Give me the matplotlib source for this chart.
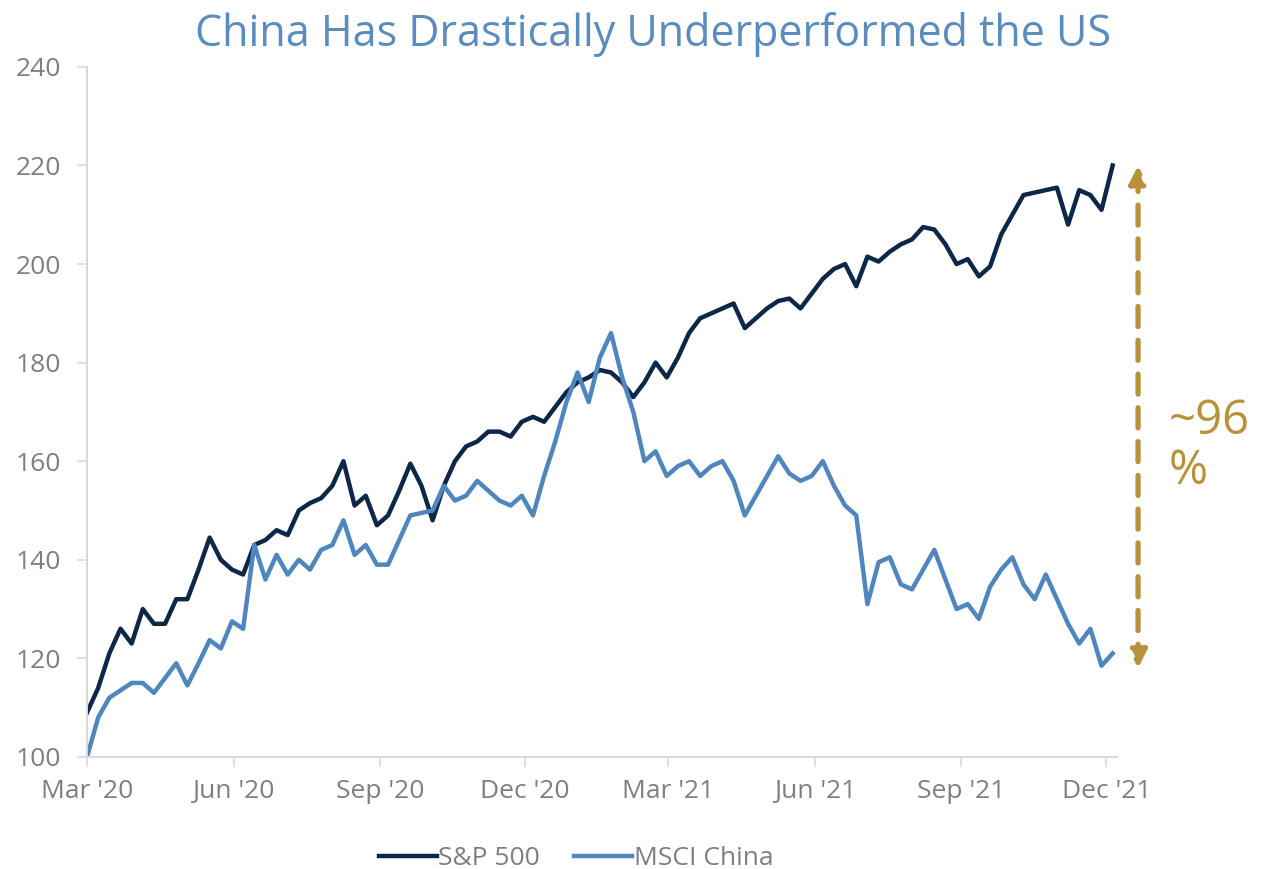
import matplotlib
matplotlib.use("Agg")
import matplotlib.pyplot as plt
import matplotlib.transforms as mtransforms
import pandas as pd

# weekly index levels (start = 100)
weeks = pd.date_range("2020-03-23", periods=93, freq="7D")

sp500 = [
    109, 114, 121, 126, 123, 130, 127, 127, 132, 132,
    138, 144.5, 140, 138, 137, 143, 144, 146, 145, 150,
    151.5, 152.5, 155, 160, 151, 153, 147, 149, 154, 159.5,
    155, 148, 155, 160, 163, 164, 166, 166, 165, 168,
    169, 168, 171, 174, 176, 177, 178.5, 178, 176, 173,
    176, 180, 177, 181, 186, 189, 190, 191, 192, 187,
    189, 191, 192.5, 193, 191, 194, 197, 199, 200, 195.5,
    201.5, 200.5, 202.5, 204, 205, 207.5, 207, 204, 200, 201,
    197.5, 199.5, 206, 210, 214, 214.5, 215, 215.5, 208, 215,
    214, 211, 220,
]

msci_china = [
    100, 108, 112, 113.5, 115, 115, 113, 116, 119, 114.5,
    119, 123.7, 122, 127.5, 126, 143, 136, 141, 137, 140,
    138, 142, 143, 148, 141, 143, 139, 139, 144, 149,
    149.5, 150, 155, 152, 153, 156, 154, 152, 151, 153,
    149, 157, 164, 172, 178, 172, 181, 186, 177, 170,
    160, 162, 157, 159, 160, 157, 159, 160, 156, 149,
    153, 157, 161, 157.5, 156, 157, 160, 155, 151, 149,
    131, 139.5, 140.5, 135, 134, 138, 142, 136, 130, 131,
    128, 134.5, 138, 140.5, 135, 132, 137, 132, 127, 123,
    126, 118.5, 121,
]

tick_dates = pd.to_datetime([
    "2020-03-23", "2020-06-23", "2020-09-23", "2020-12-23",
    "2021-03-23", "2021-06-23", "2021-09-23", "2021-12-23",
])
tick_labels = ["Mar '20", "Jun '20", "Sep '20", "Dec '20",
               "Mar '21", "Jun '21", "Sep '21", "Dec '21"]

gap_top, gap_bottom = 220, 118
gap_label = "~96\n%"

NAVY = "#0c2747"
STEEL = "#4f86bd"
GOLD = "#b8923a"
GREY = "#7f7f7f"

plt.rcParams["font.family"] = ["Open Sans", "DejaVu Sans"]

fig = plt.figure(figsize=(12.8, 8.69), dpi=100)
ax = fig.add_axes([0.068, 0.129, 0.805, 0.794])

ax.plot(weeks, sp500, color=NAVY, lw=3.2, label="S&P 500", solid_joinstyle="round")
ax.plot(weeks, msci_china, color=STEEL, lw=3.2, label="MSCI China", solid_joinstyle="round")

ax.set_ylim(100, 240)
ax.set_yticks(range(100, 241, 20))
ax.set_xlim(weeks[0], weeks[-1] + pd.Timedelta(days=3))
ax.set_xticks(tick_dates)
ax.set_xticklabels(tick_labels)

for side in ("top", "right"):
    ax.spines[side].set_visible(False)
for side in ("left", "bottom"):
    ax.spines[side].set_color("#d9d9d9")
    ax.spines[side].set_linewidth(1.5)
ax.tick_params(axis="both", colors="#d9d9d9", labelcolor=GREY, labelsize=19,
               length=7, width=1.2)
ax.tick_params(axis="x", pad=9)
ax.tick_params(axis="y", pad=12)

fig.text(0.51, 0.96, "China Has Drastically Underperformed the US",
         ha="center", va="center", fontsize=31, color="#5b8cbf")

# performance gap arrow, just right of the plot
trans = mtransforms.blended_transform_factory(ax.transAxes, ax.transData)
ax.annotate("", xy=(1.02, gap_bottom), xytext=(1.02, gap_top),
            xycoords=trans, textcoords=trans, annotation_clip=False,
            arrowprops=dict(arrowstyle="<|-|>", color=GOLD, lw=3.8,
                            linestyle=(0, (3.8, 2.6)), mutation_scale=26,
                            shrinkA=0, shrinkB=0))
ax.text(1.05, 163, gap_label, transform=trans, color=GOLD, fontsize=34,
        ha="left", va="center", linespacing=1.05, clip_on=False)

fig.legend(loc="lower center", bbox_to_anchor=(0.45, -0.03), ncol=2,
           frameon=False, fontsize=19, labelcolor=GREY, handlelength=2.2,
           handletextpad=0.05, columnspacing=1.3)

fig.savefig("out.png", dpi=100)
